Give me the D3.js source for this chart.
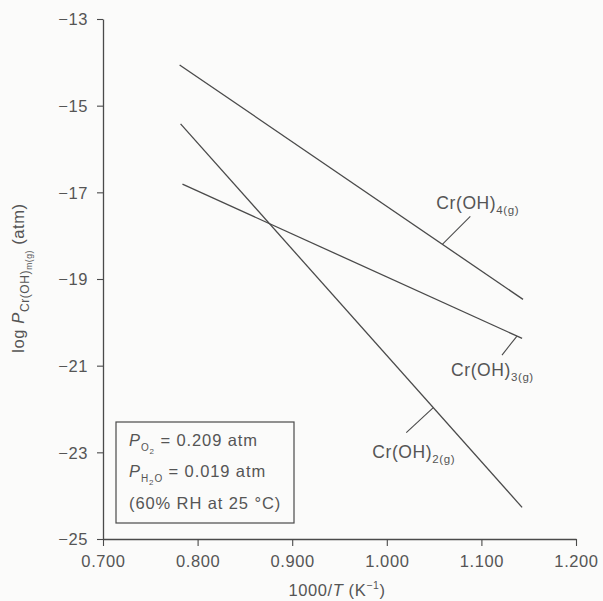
<!DOCTYPE html>
<html>
<head>
<meta charset="utf-8">
<script src="https://cdn.jsdelivr.net/npm/d3@7"></script>
<style>
  body { margin: 0; background: #fbfbfa; }
  svg { display: block; }
  text { font-family: "Liberation Sans", Arial, sans-serif; fill: #555; }
</style>
</head>
<body>
<svg id="chart" width="603" height="601"></svg>
<script>
// 1000/T (K^-1) and log P values at the two ends of each line
const species = ["4", "3", "2"];
const invT_start = [0.781, 0.784, 0.782];
const invT_end = [1.144, 1.143, 1.143];
const logP_start = [-14.06, -16.81, -15.42];
const logP_end = [-19.47, -20.37, -24.27];

const xTicks = [0.7, 0.8, 0.9, 1.0, 1.1, 1.2];
const yTicks = [-13, -15, -17, -19, -21, -23, -25];

const labelText = ["Cr(OH)", "Cr(OH)", "Cr(OH)"];
const labelSub = ["4(g)", "3(g)", "2(g)"];

const svg = d3.select("#chart");
const ink = "#4a4a4a";
const tickFont = "16.5px";

const x = d3.scaleLinear().domain([0.7, 1.2]).range([103, 576]);
const y = d3.scaleLinear().domain([-25, -13]).range([539, 19]);

// axes
const xAxis = d3.axisBottom(x).tickValues(xTicks).tickFormat(d3.format(".3f")).tickSize(7).tickSizeOuter(0);
const yAxis = d3.axisLeft(y).tickValues(yTicks).tickFormat(d => "\u2212" + Math.abs(d)).tickSize(6).tickSizeOuter(0);

const gx = svg.append("g").attr("transform", "translate(0," + y(-25) + ")").call(xAxis);
const gy = svg.append("g").attr("transform", "translate(" + x(0.7) + ",0)").call(yAxis);

[gx, gy].forEach(g => {
  g.select(".domain").attr("stroke", ink).attr("stroke-width", 1.3);
  g.selectAll(".tick line").attr("stroke", ink).attr("stroke-width", 1.1);
  g.selectAll(".tick text").style("font-size", tickFont).attr("fill", "#555")
    .style("letter-spacing", "0.6px")
    .style("font-family", "'Liberation Sans', Arial, sans-serif");
});
gx.selectAll(".tick text").attr("y", 28).attr("dy", 0);
gy.selectAll(".tick text").attr("x", -15).attr("dy", "0.36em");

// lines
const lines = species.map((s, i) => ({
  s: s,
  pts: [[invT_start[i], logP_start[i]], [invT_end[i], logP_end[i]]]
}));

const lineGen = d3.line().x(d => x(d[0])).y(d => y(d[1]));

svg.append("g").selectAll("path").data(lines).enter().append("path")
  .attr("d", d => lineGen(d.pts))
  .attr("fill", "none")
  .attr("stroke", ink)
  .attr("stroke-width", 1.3);

// leaders: point on line (fraction along line) -> offset in pixels
const leaderT = [0.765, 0.985, 0.74];
const leaderDx = [28, -15, -27];
const leaderDy = [-28, 19, 25];
const textDx = [-6, -66, -61];
const textDy = [-35, 40, 50];

lines.forEach((d, i) => {
  const t = leaderT[i];
  const px = x(d.pts[0][0] + t * (d.pts[1][0] - d.pts[0][0]));
  const py = y(d.pts[0][1] + t * (d.pts[1][1] - d.pts[0][1]));
  svg.append("line")
    .attr("x1", px).attr("y1", py)
    .attr("x2", px + leaderDx[i]).attr("y2", py + leaderDy[i])
    .attr("stroke", ink).attr("stroke-width", 1.1);
  const tx = svg.append("text")
    .attr("x", px + textDx[i]).attr("y", py + textDy[i])
    .style("font-size", "17.5px").style("letter-spacing", "0.6px");
  tx.append("tspan").text(labelText[i]);
  tx.append("tspan").attr("dy", 5).style("font-size", "11.5px").text(labelSub[i]);
});

// legend box
const box = svg.append("g");
box.append("rect")
  .attr("x", 116).attr("y", 422).attr("width", 178).attr("height", 101)
  .attr("fill", "none").attr("stroke", ink).attr("stroke-width", 1.2);

const legFont = "16.5px";
const legSpace = "0.9px";
const l1 = box.append("text").attr("x", 129).attr("y", 446).style("font-size", legFont).style("letter-spacing", legSpace);
l1.append("tspan").style("font-style", "italic").text("P");
l1.append("tspan").attr("dy", 5).style("font-size", "10px").text("O");
l1.append("tspan").attr("dy", 3).style("font-size", "8px").text("2");
l1.append("tspan").attr("dy", -8).text(" = 0.209 atm");

const l2 = box.append("text").attr("x", 129).attr("y", 477).style("font-size", legFont).style("letter-spacing", legSpace);
l2.append("tspan").style("font-style", "italic").text("P");
l2.append("tspan").attr("dy", 5).style("font-size", "10px").text("H");
l2.append("tspan").attr("dy", 3).style("font-size", "8px").text("2");
l2.append("tspan").attr("dy", -3).style("font-size", "10px").text("O");
l2.append("tspan").attr("dy", -5).text(" = 0.019 atm");

box.append("text").attr("x", 129).attr("y", 509).style("font-size", legFont).style("letter-spacing", legSpace)
  .text("(60% RH at 25 \u00B0C)");

// x axis title
const xt = svg.append("text").attr("x", 337).attr("y", 596)
  .attr("text-anchor", "middle").style("font-size", "16.5px").style("letter-spacing", "0.6px");
xt.append("tspan").text("1000/");
xt.append("tspan").style("font-style", "italic").text("T");
xt.append("tspan").text("  (K");
xt.append("tspan").attr("dy", -7).style("font-size", "10.5px").text("\u22121");
xt.append("tspan").attr("dy", 7).text(")");

// y axis title
const yt = svg.append("text")
  .attr("transform", "translate(24,278) rotate(-90)")
  .attr("text-anchor", "middle").style("font-size", "16.5px").style("letter-spacing", "0.6px");
yt.append("tspan").text("log ");
yt.append("tspan").style("font-style", "italic").text("P");
yt.append("tspan").attr("dy", 5).style("font-size", "12px").text("Cr(OH)");
yt.append("tspan").attr("dy", 3).style("font-size", "8.5px").text("m(g)");
yt.append("tspan").attr("dy", -8).text("   (atm)");
</script>
</body>
</html>
